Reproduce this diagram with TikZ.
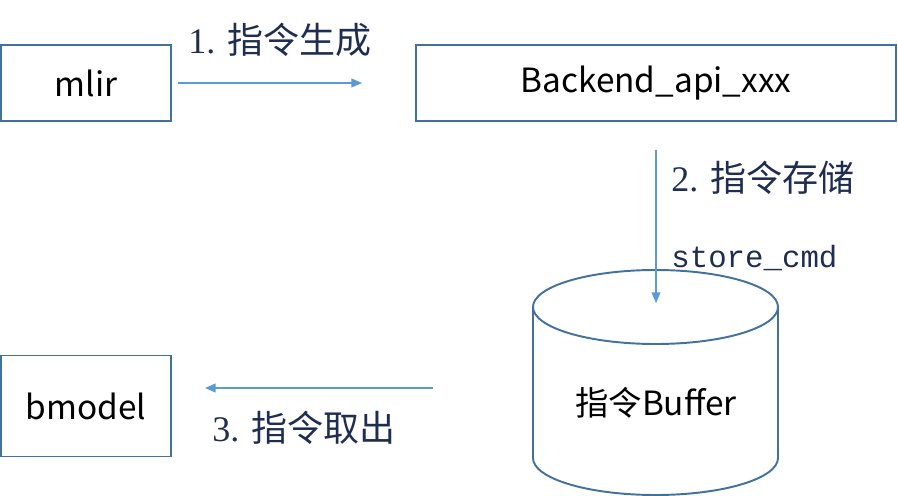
\documentclass[tikz,border=0pt]{standalone}
\usepackage{fontspec}
\setmainfont{Liberation Serif}
\setmonofont{Liberation Mono}
\newfontfamily\cjk{Noto Sans CJK SC}
\usetikzlibrary{arrows.meta,positioning}
\definecolor{boxline}{RGB}{65,113,156}
\definecolor{flow}{RGB}{91,155,213}
\definecolor{labelc}{RGB}{31,45,80}

\tikzset{
  block/.style={draw=boxline, line width=1.1pt, font=\cjk\fontsize{19}{21}\selectfont, inner sep=0pt},
  flowarrow/.style={draw=flow, line width=0.6pt, -{Triangle[length=6pt,width=5pt]}},
  steplabel/.style={text=labelc, font=\fontsize{20.5}{22}\selectfont, anchor=west, inner sep=0pt}
}

\begin{document}
\begin{tikzpicture}[x=0.02cm, y=-0.02cm]
    \useasboundingbox (0,0) rectangle (898,496);
    % 方框
    \node[block, minimum width=170*0.02cm, minimum height=76*0.02cm] (mlir) at (86,83) {mlir};
    \node[block, minimum width=480*0.02cm, minimum height=76*0.02cm] (backend) at (656,83) {Backend\_api\_xxx};
    \node[block, minimum width=170*0.02cm, minimum height=101*0.02cm] (bmodel) at (86,406) {bmodel};

    % 指令 Buffer 圆柱
    \draw[boxline, line width=1.1pt] (533,307) -- (533,458) arc[start angle=180, end angle=0, x radius=122.5, y radius=37] -- (778,307);
    \draw[boxline, line width=1.1pt] (655.5,307) ellipse[x radius=122.5, y radius=37];
    \node[font=\cjk\fontsize{19}{21}\selectfont] (buf) at (656,403) {指令Buffer};

    % 箭头端点
    \coordinate (a1s) at (178,83);
    \coordinate (a1e) at (362,83);
    \coordinate (a2s) at (656,150);
    \coordinate (a2e) at (656,303);
    \coordinate (a3s) at (433,388);
    \coordinate (a3e) at (205,388);

    \draw[flowarrow] (a1s) -- (a1e);
    \draw[flowarrow] (a2s) -- (a2e);
    \draw[flowarrow] (a3s) -- (a3e);

    \node[steplabel] (l1) at (188,40) {1. {\cjk 指令生成}};
    \node[steplabel] (l2) at (671,178) {2. {\cjk 指令存储}};
    \node[steplabel, font=\ttfamily\fontsize{17.5}{20}\selectfont] (l2b) at (671,258) {store\_cmd};
    \node[steplabel] (l3) at (212,428) {3. {\cjk 指令取出}};
\end{tikzpicture}
\end{document}
